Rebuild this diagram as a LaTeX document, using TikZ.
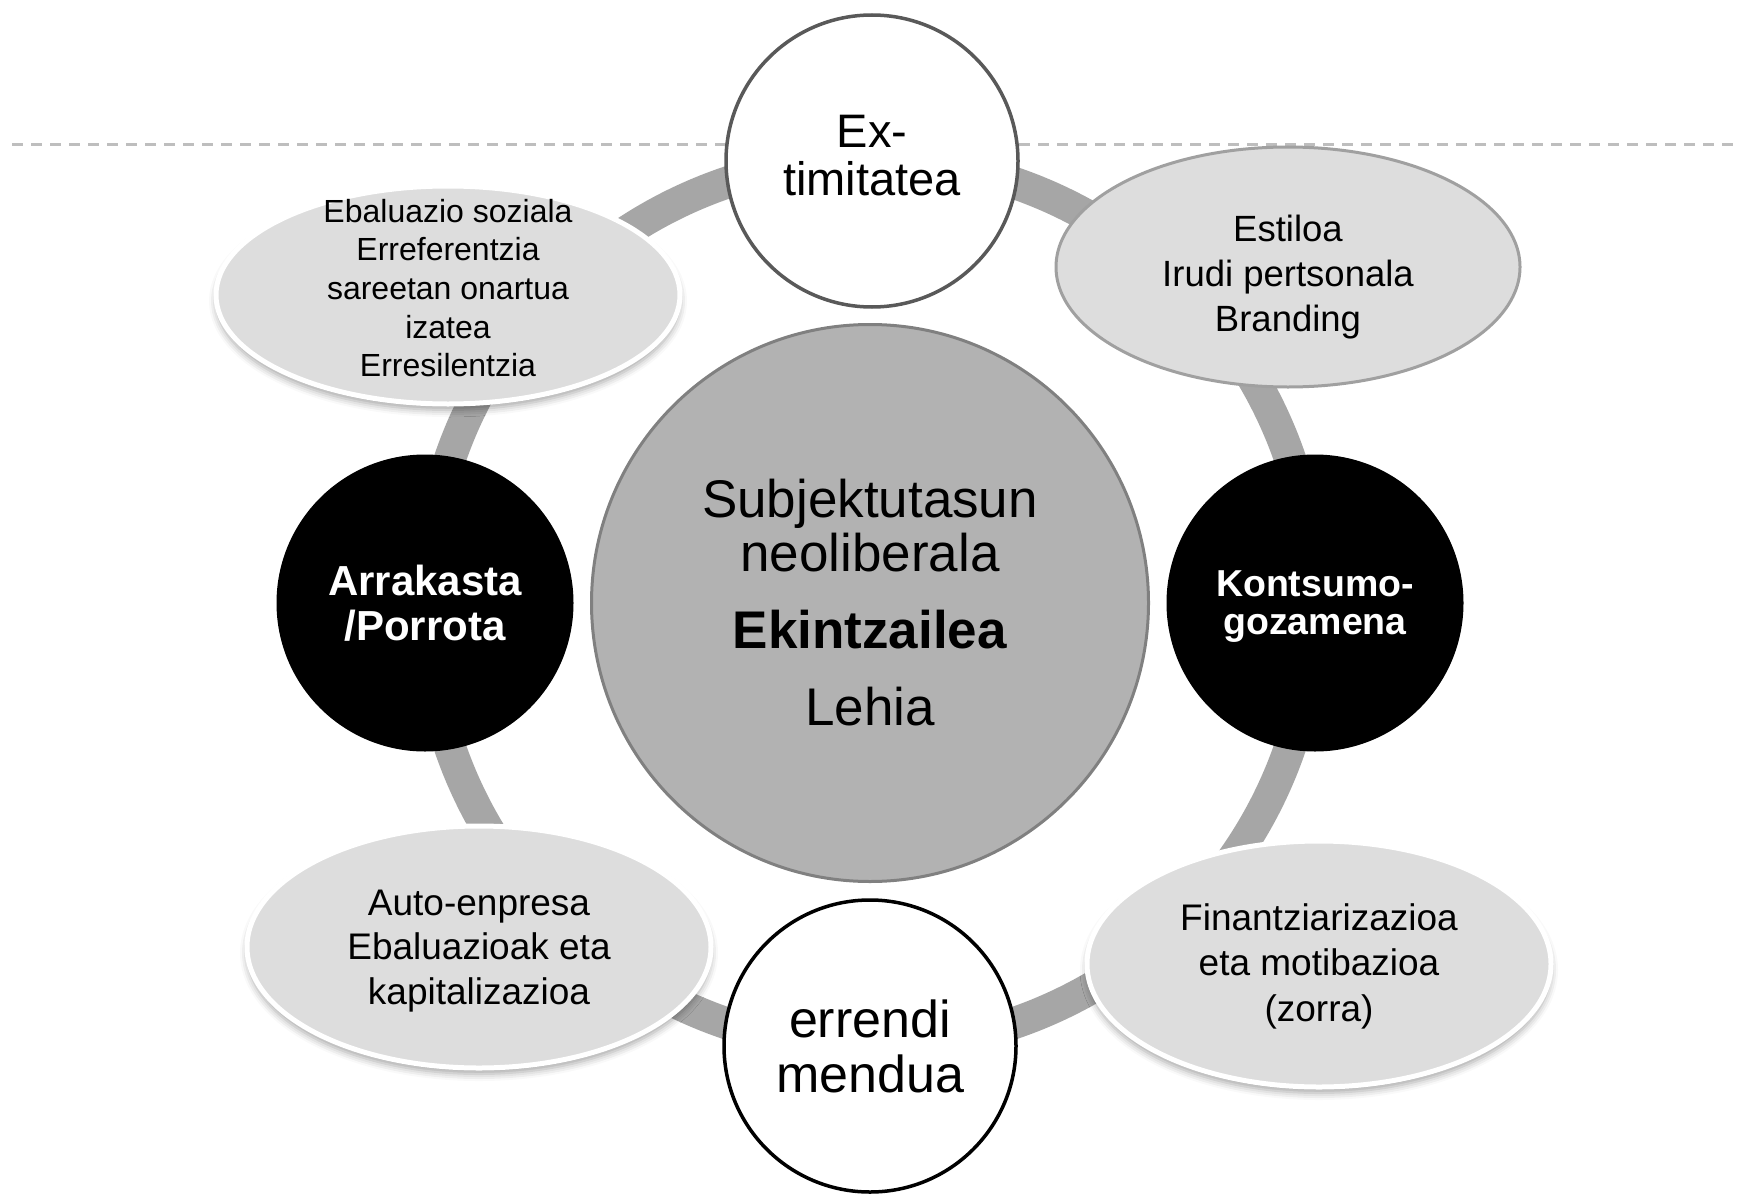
\documentclass[tikz,border=0pt]{standalone}
\usepackage{fontspec}
\setmainfont{Liberation Sans}
\usetikzlibrary{shapes.geometric, shadows.blur}

\definecolor{ringgrey}{RGB}{166,166,166}
\definecolor{dashgrey}{RGB}{190,190,190}
\definecolor{centregrey}{RGB}{178,178,178}
\definecolor{centreline}{RGB}{128,128,128}
\definecolor{ovalgrey}{RGB}{221,221,221}
\definecolor{ovalline}{RGB}{160,160,160}
\definecolor{extline}{RGB}{89,89,89}

\tikzset{
  oval/.style={ellipse, fill=ovalgrey, minimum width=464pt, inner sep=0pt},
  glowoval/.style={oval, draw=white, line width=5pt,
    blur shadow={shadow xshift=0pt, shadow yshift=-6pt, shadow blur radius=7pt, shadow opacity=35}},
  lineoval/.style={oval, draw=ovalline, line width=3pt},
  ovaltext/.style={inner sep=0pt, align=center, text=black},
  rimcircle/.style={circle, fill=white, line width=3.5pt, minimum size=292pt, inner sep=0pt, align=center},
  blackcircle/.style={circle, fill=black, text=white, minimum size=297pt, inner sep=0pt, align=center},
}

\begin{document}
\begin{tikzpicture}[x=1pt,y=1pt,yscale=-1,xscale=1]
        \useasboundingbox (0,0) rectangle (1740,1196);

        %Ring behind the nodes
        \coordinate (hub) at (870,603);
        \draw [color=ringgrey, line width=32pt] (hub) circle [radius=444];
        %Straight Lines
        \draw [color=dashgrey, line width=3pt, dash pattern={on 11pt off 8pt}] (12,145) -- (1740,145);

        %Shape: Ellipse
        \node [glowoval, minimum height=218pt] (social) at (448,295) {};
        \node [ovaltext, font=\fontsize{32pt}{38.6pt}\selectfont] (social text) at (448,288)
            {Ebaluazio soziala\\Erreferentzia\\sareetan onartua\\izatea\\Erresilentzia};
        %Shape: Ellipse
        \node [lineoval, minimum height=240pt] (style) at (1288,267) {};
        \node [ovaltext, font=\fontsize{36.5pt}{45pt}\selectfont] (style text) at (1288,277)
            {Estiloa\\Irudi pertsonala\\Branding};
        %Shape: Ellipse
        \node [glowoval, minimum height=242pt] (firm) at (479,947) {};
        \node [ovaltext, font=\fontsize{37pt}{44.5pt}\selectfont] (firm text) at (479,951)
            {Auto-enpresa\\Ebaluazioak eta\\kapitalizazioa};
        %Shape: Ellipse
        \node [glowoval, minimum height=246pt] (debt) at (1319,964) {};
        \node [ovaltext, font=\fontsize{37pt}{45.5pt}\selectfont] (debt text) at (1319,966)
            {Finantziarizazioa\\eta motibazioa\\(zorra)};

        %Shape: Circle
        \node [circle, fill=centregrey, draw=centreline, line width=3pt, minimum size=557pt, inner sep=0pt, align=center,
               font=\fontsize{53pt}{54pt}\selectfont] (centre) at (hub)
            {Subjektutasun\\neoliberala\\[23pt]\textbf{Ekintzailea}\\[23pt]Lehia};
        %Shape: Circle
        \node [rimcircle, draw=extline] (ext) at (872,161) {};
        \node [ovaltext, font=\fontsize{47pt}{48pt}\selectfont] (ext text) at (872,156) {Ex-\\timitatea};
        %Shape: Circle
        \node [rimcircle, draw=black, font=\fontsize{52pt}{55pt}\selectfont] (perf) at (870,1046) {errendi\\mendua};
        %Shape: Circle
        \node [blackcircle, font=\bfseries\fontsize{42pt}{45pt}\selectfont] (success) at (425,603) {Arrakasta\\/Porrota};
        %Shape: Circle
        \node [blackcircle] (consume) at (1315,603) {};
        \node [ovaltext, text=white, font=\bfseries\fontsize{37.5pt}{38pt}\selectfont] (consume text) at (1315,607) {Kontsumo-\\gozamena};

\end{tikzpicture}
\end{document}
